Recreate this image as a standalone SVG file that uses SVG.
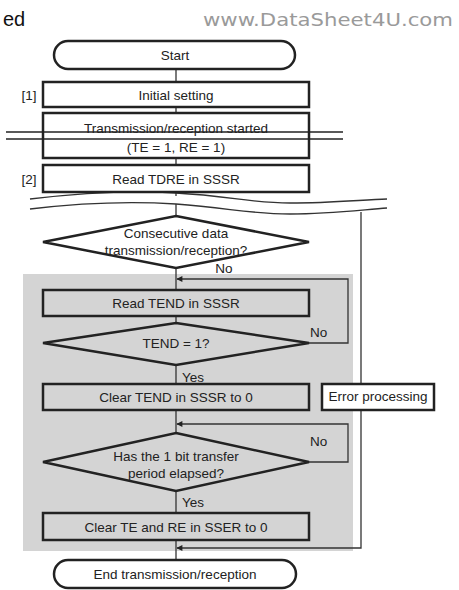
<svg xmlns="http://www.w3.org/2000/svg" width="459" height="590" viewBox="0 0 459 590">
<style>
text{font-family:"Liberation Sans",Arial,sans-serif;font-size:13.5px;fill:#222;text-anchor:middle}
.box{fill:none;stroke:#222;stroke-width:2.5}
.wbox{fill:#fff;stroke:#222;stroke-width:2.5}
.ln{fill:none;stroke:#333;stroke-width:1.3}
.lbl{text-anchor:start}
</style>
<defs>
<marker id="ah" viewBox="0 0 10 10" refX="9" refY="5" markerWidth="8" markerHeight="6" markerUnits="userSpaceOnUse" orient="auto">
<path d="M0,0 L10,5 L0,10 z" fill="#222"/>
</marker>
</defs>
<rect id="shade" x="23" y="274" width="330" height="277" fill="#d4d4d4"/>
<text x="3" y="26" class="lbl" style="font-size:20px;fill:#111">ed</text>
<text x="203" y="26" class="lbl" textLength="250" lengthAdjust="spacingAndGlyphs" style="font-family:'DejaVu Sans',sans-serif;font-size:18px;fill:#9a9a9a">www.DataSheet4U.com</text>
<g id="connectors">
<line class="ln" x1="176" y1="69" x2="176" y2="82"/>
<line class="ln" x1="176" y1="107" x2="176" y2="113"/>
<line class="ln" x1="176" y1="158" x2="176" y2="165"/>
<line class="ln" x1="176" y1="192" x2="176" y2="196"/>
<line class="ln" x1="176" y1="204" x2="176" y2="216"/>
<line class="ln" x1="176" y1="268" x2="176" y2="290"/>
<line class="ln" x1="176" y1="316" x2="176" y2="323"/>
<line class="ln" x1="176" y1="365" x2="176" y2="384"/>
<line class="ln" x1="176" y1="410" x2="176" y2="433"/>
<line class="ln" x1="176" y1="491" x2="176" y2="513"/>
<line class="ln" x1="176" y1="540" x2="176" y2="560"/>
<polyline class="ln" points="309,343 348,343 348,279 177,279" marker-end="url(#ah)"/>
<polyline class="ln" points="309,462 348,462 348,424 177,424" marker-end="url(#ah)"/>
<polyline class="ln" points="361,212 361,548 177,548" marker-end="url(#ah)"/>
<path class="ln" d="M30,199 C80,193 130,190 176,193 C230,196 250,203 290,203 C330,203 360,200 387,199"/>
<path class="ln" d="M30,209 C80,203 130,201 176,204 C230,208 250,214 290,214 C330,214 360,210 387,208"/>
</g>
<g id="start">
<rect class="box" x="54" y="41" width="241" height="28" rx="14"/>
<text x="175" y="60">Start</text>
</g>
<g id="init">
<rect class="box" x="43" y="82" width="266" height="25"/>
<text x="176" y="99.5">Initial setting</text>
<text x="29" y="100">[1]</text>
</g>
<g id="txstart">
<rect class="box" x="43" y="113" width="266" height="45"/>
<text x="176" y="133">Transmission/reception started</text>
<text x="176" y="152">(TE = 1, RE = 1)</text>
<line x1="6" y1="132" x2="343" y2="132" stroke="#222" stroke-width="1.5"/>
<line x1="6" y1="139" x2="343" y2="139" stroke="#222" stroke-width="1.5"/>
</g>
<g id="readtdre">
<rect class="box" x="43" y="165" width="266" height="27"/>
<text x="176" y="183.5">Read TDRE in SSSR</text>
<text x="29" y="184">[2]</text>
</g>
<g id="consec">
<polygon class="box" points="176,216 309,242 176,268 43,242"/>
<text x="176" y="238">Consecutive data</text>
<text x="176" y="255">transmission/reception?</text>
<text x="224" y="273">No</text>
</g>
<g id="readtend">
<rect class="box" x="43" y="290" width="266" height="26"/>
<text x="176" y="308">Read TEND in SSSR</text>
</g>
<g id="tend1">
<polygon class="box" points="176,323 309,343 176,365 43,343"/>
<text x="176" y="348">TEND = 1?</text>
<text x="310" y="337" class="lbl">No</text>
<text x="182" y="382" class="lbl">Yes</text>
</g>
<g id="cleartend">
<rect class="box" x="43" y="384" width="266" height="26"/>
<text x="176" y="402">Clear TEND in SSSR to 0</text>
</g>
<g id="error">
<rect class="wbox" x="322" y="384" width="112" height="26"/>
<text x="378" y="401">Error processing</text>
</g>
<g id="bitperiod">
<polygon class="box" points="176,433 309,462 176,491 43,462"/>
<text x="176" y="461">Has the 1 bit transfer</text>
<text x="176" y="478">period elapsed?</text>
<text x="310" y="446" class="lbl">No</text>
<text x="182" y="507" class="lbl">Yes</text>
</g>
<g id="clearte">
<rect class="box" x="43" y="513" width="266" height="27"/>
<text x="176" y="531.5">Clear TE and RE in SSER to 0</text>
</g>
<g id="end">
<rect class="box" x="54" y="560" width="242" height="28" rx="14"/>
<text x="175" y="579">End transmission/reception</text>
</g>
</svg>
